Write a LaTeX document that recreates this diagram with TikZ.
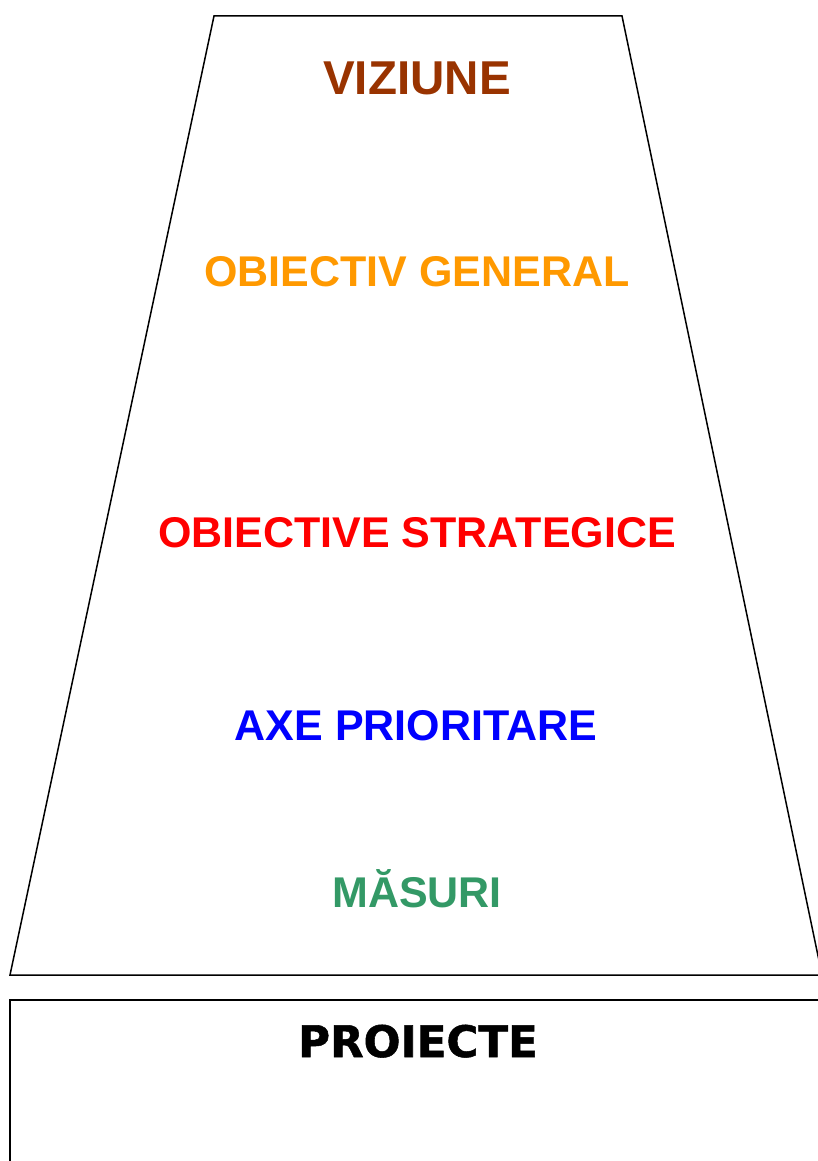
\documentclass[tikz,border=0pt]{standalone}
\usepackage{fontspec}
\setmainfont{Liberation Sans}
\newfontfamily\blackfont[FakeBold=1.2]{DejaVu Sans}
\usepackage{tikz}
\usetikzlibrary{positioning}
\definecolor{VisionBrown}{HTML}{993300}
\definecolor{GoalOrange}{HTML}{FF9900}
\definecolor{StratRed}{HTML}{FF0000}
\definecolor{AxisBlue}{HTML}{0000FF}
\definecolor{MeasGreen}{HTML}{339966}
\tikzset{
  lvlnode/.style={anchor=base,inner sep=0pt,
    font=\fontsize{43}{48}\selectfont\bfseries},
  toplvl/.style={lvlnode,font=\fontsize{47.5}{52}\selectfont\bfseries},
  projnode/.style={anchor=base,inner sep=0pt,
    font=\blackfont\fontsize{43.5}{50}\selectfont\bfseries},
  pyrline/.style={line width=1.5pt,draw=black,line join=miter},
  boxline/.style={line width=1.8pt,draw=black},
}

\begin{document}
\begin{tikzpicture}[x=1pt,y=-1pt]
  \useasboundingbox[fill=white] (0,0) rectangle (817,1161);
  % pyramid outline
  \coordinate (tl) at (214,16);
  \coordinate (tr) at (622,16);
  \coordinate (br) at (822,975);
  \coordinate (bl) at (10,975);
  \draw[pyrline] (tl) -- (tr) -- (br) -- (bl) -- cycle;
  % project box
  \draw[boxline] (10,1180) -- (10,1000) -- (840,1000);
  % levels
  \node[toplvl,text=VisionBrown] (vis) at (417,95) {VIZIUNE};
  \node[lvlnode,text=GoalOrange] (gen) at (417,286) {OBIECTIV GENERAL};
  \node[lvlnode,text=StratRed] (str) at (417,547) {OBIECTIVE STRATEGICE};
  \node[lvlnode,text=AxisBlue] (axe) at (416,740) {AXE PRIORITARE};
  \node[lvlnode,text=MeasGreen] (mas) at (417,907) {MĂSURI};
  \node[projnode] (proj) at (418,1057) {PROIECTE};
\end{tikzpicture}
\end{document}
